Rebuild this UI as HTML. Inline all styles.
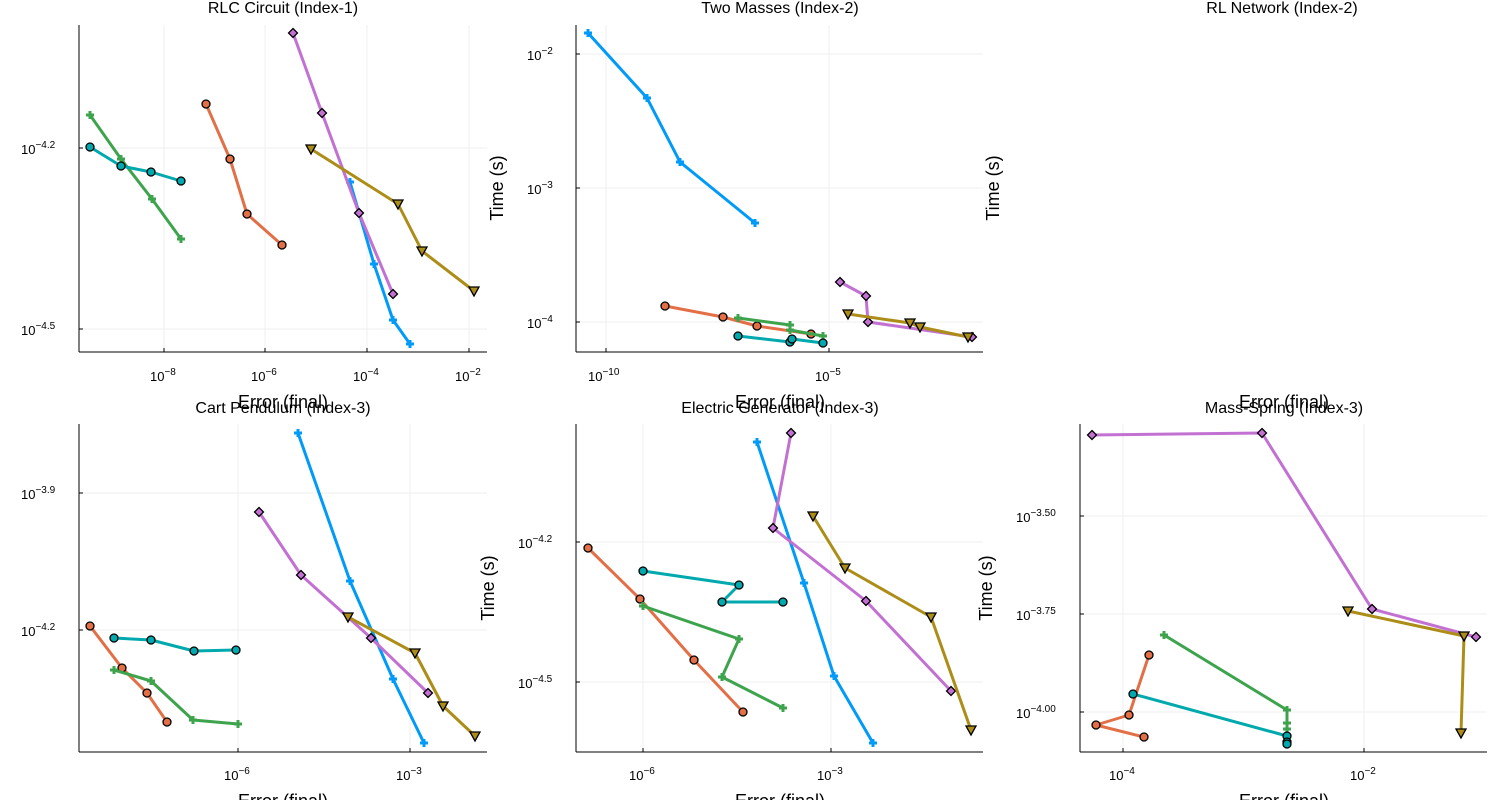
<!DOCTYPE html>
<html><head><meta charset="utf-8"><style>
html,body{margin:0;padding:0;background:#fff;}
svg{display:block;font-family:"Liberation Sans","DejaVu Sans",sans-serif;}
.t{font-size:16px;fill:#000;text-anchor:middle;}
.al{font-size:18px;fill:#000;text-anchor:middle;}
.tk{font-size:13px;fill:#000;}
.sup{font-size:10px;}
</style></head><body>
<svg id="s" width="1500" height="800" viewBox="0 0 1500 800" xmlns="http://www.w3.org/2000/svg">
<rect width="1500" height="800" fill="#fff"/>
<g id="grid" stroke="#efefef" stroke-width="1"></g>
<g id="axes" stroke="#000" stroke-width="1"></g>
<g id="series"></g>
<text class="t" x="283" y="13">RLC Circuit (Index-1)</text>
<text class="t" x="780" y="13">Two Masses (Index-2)</text>
<text class="t" x="1282" y="13">RL Network (Index-2)</text>
<text class="t" x="283" y="413">Cart Pendulum (Index-3)</text>
<text class="t" x="780" y="413">Electric Generator (Index-3)</text>
<text class="t" x="1284" y="413">Mass-Spring (Index-3)</text>
<text class="al" x="283" y="408">Error (final)</text>
<text class="al" x="780" y="408">Error (final)</text>
<text class="al" x="1284" y="408">Error (final)</text>
<text class="al" x="283" y="807">Error (final)</text>
<text class="al" x="780" y="807">Error (final)</text>
<text class="al" x="1284" y="807">Error (final)</text>
<text class="al" transform="translate(503,188) rotate(-90)">Time (s)</text>
<text class="al" transform="translate(999,188) rotate(-90)">Time (s)</text>
<text class="al" transform="translate(494,588) rotate(-90)">Time (s)</text>
<text class="al" transform="translate(992,588) rotate(-90)">Time (s)</text>
<text class="tk" x="21" y="154">10<tspan class="sup" dy="-6">−4.2</tspan></text>
<text class="tk" x="21" y="335">10<tspan class="sup" dy="-6">−4.5</tspan></text>
<text class="tk" x="150" y="381">10<tspan class="sup" dy="-6">−8</tspan></text>
<text class="tk" x="251" y="381">10<tspan class="sup" dy="-6">−6</tspan></text>
<text class="tk" x="353" y="381">10<tspan class="sup" dy="-6">−4</tspan></text>
<text class="tk" x="455" y="381">10<tspan class="sup" dy="-6">−2</tspan></text>
<text class="tk" x="527" y="60">10<tspan class="sup" dy="-6">−2</tspan></text>
<text class="tk" x="527" y="194">10<tspan class="sup" dy="-6">−3</tspan></text>
<text class="tk" x="527" y="328">10<tspan class="sup" dy="-6">−4</tspan></text>
<text class="tk" x="588" y="381">10<tspan class="sup" dy="-6">−10</tspan></text>
<text class="tk" x="815" y="381">10<tspan class="sup" dy="-6">−5</tspan></text>
<text class="tk" x="21" y="499">10<tspan class="sup" dy="-6">−3.9</tspan></text>
<text class="tk" x="21" y="636">10<tspan class="sup" dy="-6">−4.2</tspan></text>
<text class="tk" x="224" y="780">10<tspan class="sup" dy="-6">−6</tspan></text>
<text class="tk" x="396" y="780">10<tspan class="sup" dy="-6">−3</tspan></text>
<text class="tk" x="518" y="548">10<tspan class="sup" dy="-6">−4.2</tspan></text>
<text class="tk" x="518" y="688">10<tspan class="sup" dy="-6">−4.5</tspan></text>
<text class="tk" x="629" y="780">10<tspan class="sup" dy="-6">−6</tspan></text>
<text class="tk" x="817" y="780">10<tspan class="sup" dy="-6">−3</tspan></text>
<text class="tk" x="1016" y="522">10<tspan class="sup" dy="-6">−3.50</tspan></text>
<text class="tk" x="1016" y="620">10<tspan class="sup" dy="-6">−3.75</tspan></text>
<text class="tk" x="1016" y="718">10<tspan class="sup" dy="-6">−4.00</tspan></text>
<text class="tk" x="1109" y="780">10<tspan class="sup" dy="-6">−4</tspan></text>
<text class="tk" x="1350" y="780">10<tspan class="sup" dy="-6">−2</tspan></text>
</svg>
<script>
var NS="http://www.w3.org/2000/svg";
function el(p,n,a){var e=document.createElementNS(NS,n);for(var k in a)e.setAttribute(k,a[k]);p.appendChild(e);return e;}
var G=document.getElementById('grid'),A=document.getElementById('axes'),S=document.getElementById('series');
var panels=[
 {x0:79,x1:487,y0:25,y1:352,xt:[164,265,367,469],yt:[148,329]},
 {x0:576,x1:983,y0:25,y1:352,xt:[606,829],yt:[54,188,322]},
 {x0:79,x1:487,y0:424,y1:752,xt:[238,410],yt:[493,630]},
 {x0:576,x1:983,y0:424,y1:752,xt:[643,831],yt:[542,682]},
 {x0:1080,x1:1487,y0:424,y1:752,xt:[1123,1364],yt:[516,614,712]}];
panels.forEach(function(p){
 p.xt.forEach(function(x){el(G,'line',{x1:x,x2:x,y1:p.y0,y2:p.y1});el(A,'line',{x1:x,x2:x,y1:p.y1,y2:p.y1-4});});
 p.yt.forEach(function(y){el(G,'line',{x1:p.x0,x2:p.x1,y1:y,y2:y});el(A,'line',{x1:p.x0,x2:p.x0+4,y1:y,y2:y});});
 el(A,'line',{x1:p.x0,x2:p.x0,y1:p.y0,y2:p.y1});
 el(A,'line',{x1:p.x0,x2:p.x1,y1:p.y1,y2:p.y1});
});
var C={b:'#009af9',o:'#e26f46',g:'#3da44d',t:'#00a9ad',p:'#c271d2',y:'#ac8d18'};
var M={b:'+',o:'c',g:'+',t:'c',p:'d',y:'v'};
function ser(c,pts){
 el(S,'polyline',{points:pts.map(function(q){return q.join(',')}).join(' '),fill:'none',stroke:C[c],'stroke-width':3,'stroke-linejoin':'round'});
 pts.forEach(function(q){var x=q[0],y=q[1],m=M[c];
  if(m=='+'){el(S,'path',{d:'M'+(x-4)+' '+y+'h8M'+x+' '+(y-4)+'v8',stroke:C[c],'stroke-width':3});}
  else if(m=='c'){el(S,'circle',{cx:x,cy:y,r:4,fill:C[c],stroke:'#000','stroke-width':1.3});}
  else if(m=='d'){el(S,'path',{d:'M'+x+' '+(y-4.5)+'L'+(x+4.5)+' '+y+'L'+x+' '+(y+4.5)+'L'+(x-4.5)+' '+y+'Z',fill:C[c],stroke:'#000','stroke-width':1.3});}
  else {el(S,'path',{d:'M'+(x-5)+' '+(y-4)+'L'+(x+5)+' '+(y-4)+'L'+x+' '+(y+5)+'Z',fill:C[c],stroke:'#000','stroke-width':1.3});}
 });
}
ser('b',[[350,182],[374,264],[393,320],[410,344]]);
ser('o',[[206,104],[230,159],[247,214],[282,245]]);
ser('g',[[90,115],[121,159],[152,199],[181,239]]);
ser('t',[[90,147],[121,166],[151,172],[181,181]]);
ser('p',[[293,33],[322,113],[359,213],[393,294]]);
ser('y',[[311,149],[398,204],[422,251],[474,291]]);
ser('b',[[588,33],[647,98],[680,162],[755,223]]);
ser('o',[[665,306],[723,317],[757,326],[811,334]]);
ser('g',[[738,318],[790,325],[790,330],[823,336]]);
ser('t',[[738,336],[790,342],[792,339],[823,343]]);
ser('p',[[840,282],[866,296],[868,322],[972,337]]);
ser('y',[[848,314],[910,323],[920,327],[968,337]]);
ser('b',[[298,433],[350,581],[393,679],[424,743]]);
ser('o',[[90,626],[122,668],[147,693],[167,722]]);
ser('g',[[114,670],[151,681],[193,720],[238,724]]);
ser('t',[[114,638],[151,640],[194,651],[236,650]]);
ser('p',[[259,512],[301,575],[371,638],[428,693]]);
ser('y',[[348,617],[415,653],[443,706],[475,736]]);
ser('b',[[757,442],[804,583],[834,676],[873,743]]);
ser('o',[[588,548],[640,599],[694,660],[743,712]]);
ser('g',[[643,606],[739,639],[722,677],[783,708]]);
ser('t',[[643,571],[739,585],[722,602],[783,602]]);
ser('p',[[791,433],[773,528],[866,601],[951,691]]);
ser('y',[[813,516],[845,568],[931,617],[971,730]]);
ser('p',[[1092,435],[1262,433],[1372,609],[1476,637]]);
ser('y',[[1348,611],[1464,636],[1461,733]]);
ser('g',[[1164,635],[1287,710],[1287,723],[1287,729]]);
ser('o',[[1149,655],[1129,715],[1096,725],[1144,737]]);
ser('t',[[1133,694],[1287,736],[1287,742],[1287,744]]);
</script>
</body></html>
